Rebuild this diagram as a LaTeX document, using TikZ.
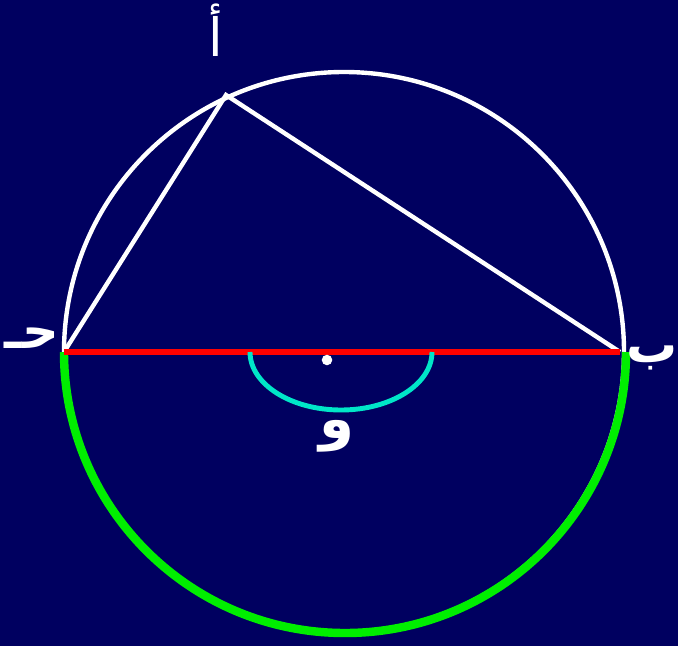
\documentclass[tikz,border=0pt]{standalone}
\usepackage{fontspec}
\newfontfamily\arabicfont[Script=Arabic]{DejaVu Sans}
\TeXXeTstate=1
\usetikzlibrary{positioning,calc}
\definecolor{bgnavy}{RGB}{0,0,96}
\definecolor{arcgreen}{RGB}{0,238,0}
\definecolor{arcteal}{RGB}{0,230,200}
\tikzset{every picture/.style={line width=2.5pt}}
\tikzset{
    lbl/.style={text=white,inner sep=0pt,font=\arabicfont\bfseries\fontsize{29}{33}\selectfont},
    dotnode/.style={circle,fill=white,inner sep=0pt,minimum size=6pt},
}

\begin{document}
\begin{tikzpicture}[x=0.02cm,y=-0.02cm]
    \fill[bgnavy] (0,0) rectangle (678,646);
    \useasboundingbox (0,0) rectangle (678,646);
    \coordinate (o) at (344,352);
    \coordinate (a) at (226,95);
    \coordinate (b) at (620,352);
    \coordinate (c) at (64,352);
    \coordinate (t) at (250,352);
    % circle and triangle
    \draw[white] (o) circle[radius=280];
    \draw[white] (c) -- (a) -- (b);
    \draw[arcgreen,line width=4.8pt] (c) arc[start angle=180,end angle=0,radius=281];
    \draw[red,line width=3pt] (c) -- (b);
    \draw[arcteal,line width=2.8pt] (t) arc[start angle=180,end angle=0,x radius=91,y radius=58];
    \node (odot) [dotnode] at (327,360) {};
    % labels
    \node (la) [lbl,font=\arabicfont\fontsize{30}{34}\selectfont] at (216,30) {\beginR أ\endR};
    \node (lb) [lbl] at (652,358) {\beginR ب\endR};
    \node (lc) [lbl] at (32,338) {\beginR حـ\endR};
    \node (lo) [lbl,font=\arabicfont\bfseries\fontsize{32}{36}\selectfont] at (337,436) {\beginR و\endR};
\end{tikzpicture}
\end{document}
